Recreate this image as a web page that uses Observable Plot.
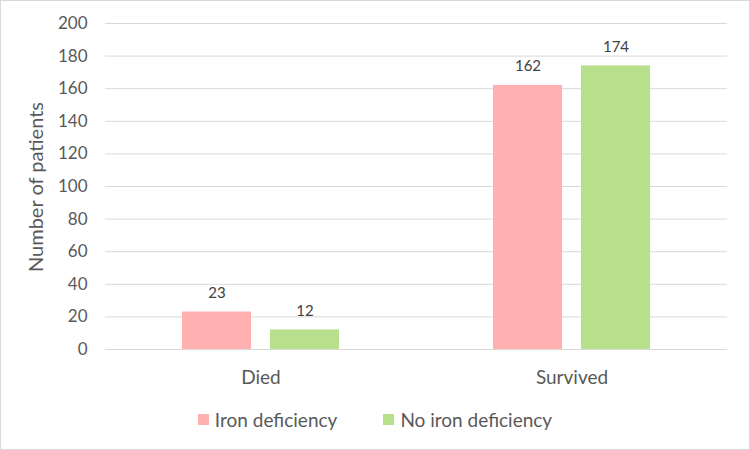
<!DOCTYPE html>
<html>
<head>
<meta charset="utf-8">
<script src="https://cdn.jsdelivr.net/npm/d3@7"></script>
<script src="https://cdn.jsdelivr.net/npm/@observablehq/plot@0.6"></script>
<style>
  body { margin: 0; background: #fff; }
  #wrap { width: 750px; height: 450px; box-sizing: border-box; border: 1px solid #d9d9d9; position: relative; font-family: Lato, "Open Sans", sans-serif; }
  #legend { position: absolute; left: 0; top: 407px; width: 100%; display: flex; justify-content: center; gap: 46px; font-size: 19px; color: #595959; }
  #legend .item { display: flex; align-items: center; gap: 6px; }
  #legend .sw { width: 11px; height: 11px; display: inline-block; }
  #ylabel { position: absolute; left: 34px; top: 186px; transform: translate(-50%, -50%) rotate(-90deg); white-space: nowrap; font-size: 20px; color: #595959; line-height: 1; }
</style>
</head>
<body>
<div id="wrap"><div id="chart"></div><div id="ylabel"></div><div id="legend"></div></div>
<script>
const categories = ["Died", "Survived"];
const groups = ["Iron deficiency", "No iron deficiency"];
const ironDeficiency = [23, 162];
const noIronDeficiency = [12, 174];
const yTicks = [0, 20, 40, 60, 80, 100, 120, 140, 160, 180, 200];
const yLabel = "Number of patients";
const colors = ["#FFB1B1", "#B8DF8B"];

const data = categories.flatMap((c, i) => [
  {outcome: c, group: groups[0], value: ironDeficiency[i]},
  {outcome: c, group: groups[1], value: noIronDeficiency[i]}
]);

const chart = Plot.plot({
  width: 748,
  height: 400,
  marginLeft: 103,
  marginRight: 22,
  marginTop: 22,
  marginBottom: 52,
  style: {fontFamily: "Lato, 'Open Sans', sans-serif", fontSize: "15px", color: "#595959", background: "transparent"},
  fx: {domain: categories, padding: 0, label: null},
  x: {domain: groups, axis: null, paddingInner: 0.2135, paddingOuter: 0.857},
  y: {domain: [0, 200]},
  color: {domain: groups, range: colors},
  marks: [
    Plot.gridY(yTicks, {stroke: "#d9d9d9", strokeOpacity: 1, strokeWidth: 1}),
    Plot.axisY(yTicks, {tickSize: 0, tickPadding: 18, fontSize: 17, fill: "#595959", label: null}),
    Plot.barY(data, {fx: "outcome", x: "group", y: "value", fill: "group"}),
    Plot.text(data, {fx: "outcome", x: "group", y: "value", text: d => String(d.value), dy: -19, fontSize: 15, fill: "#404040"}),
    Plot.axisFx({anchor: "bottom", tickSize: 0, tickPadding: 21, fontSize: 19, fill: "#595959", label: null})
  ]
});
document.getElementById("chart").appendChild(chart);
document.getElementById("ylabel").textContent = yLabel;

const legend = document.getElementById("legend");
groups.forEach((g, i) => {
  const item = document.createElement("div");
  item.className = "item";
  const sw = document.createElement("span");
  sw.className = "sw";
  sw.style.background = colors[i];
  const t = document.createElement("span");
  t.textContent = g;
  item.appendChild(sw);
  item.appendChild(t);
  legend.appendChild(item);
});
</script>
</body>
</html>
